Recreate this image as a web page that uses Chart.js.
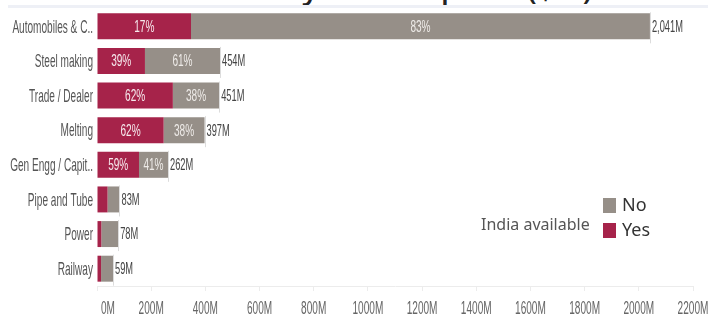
<!DOCTYPE html>
<html>
  <head>
    <meta charset="utf-8" />
    <title>End use industry-wise imports</title>
    <script src="https://cdn.jsdelivr.net/npm/chart.js"></script>
    <style>
      * {
        box-sizing: border-box;
        margin: 0;
        padding: 0;
      }
      body {
        width: 708px;
        height: 315px;
        overflow: hidden;
        background: #fff;
        position: relative;
        font-family: "Noto Sans", sans-serif;
      }
      #title {
        position: absolute;
        left: 0;
        width: 664px;
        top: -30px;
        text-align: center;
        font-size: 31px;
        line-height: 34px;
        color: #222;
        font-weight: 500;
        white-space: nowrap;
      }
      #band {
        position: absolute;
        left: 8px;
        right: 0;
        top: 5px;
        height: 3px;
        background: #eef0f6;
      }
      #box {
        position: absolute;
        left: 0;
        top: 0;
        width: 708px;
        height: 315px;
      }
      #legend {
        position: absolute;
        left: 481px;
        top: 194px;
        color: #444;
      }
      #legend .caption {
        position: absolute;
        left: 0;
        top: 19px;
        font-size: 16px;
        white-space: nowrap;
        color: #555;
      }
      #legend .item {
        position: absolute;
        left: 122px;
        font-size: 18px;
        line-height: 20px;
        white-space: nowrap;
        color: #333;
      }
      #legend .sw {
        display: inline-block;
        width: 13px;
        height: 15px;
        margin-right: 6px;
        vertical-align: -2px;
      }
    </style>
  </head>
  <body>
    <div id="title">End use industry-wise imports ($M)</div>
    <div id="band"></div>
    <div id="box"><canvas id="chart"></canvas></div>
    <div id="legend">
      <div class="caption">India available</div>
      <div class="item" style="top: 0px"><span class="sw" style="background: #968f88"></span>No</div>
      <div class="item" style="top: 25px"><span class="sw" style="background: #a6234a"></span>Yes</div>
    </div>

    <script>
      // $M
      const industries = [
        "Automobiles & C..",
        "Steel making",
        "Trade / Dealer",
        "Melting",
        "Gen Engg / Capit..",
        "Pipe and Tube",
        "Power",
        "Railway",
      ];
      const yesValues = [347, 177, 280, 246, 155, 39, 16, 15];
      const noValues = [1694, 277, 171, 151, 107, 44, 62, 44];
      const xTicks = [0, 200, 400, 600, 800, 1000, 1200, 1400, 1600, 1800, 2000, 2200];

      const yesColor = "#a6234a";
      const noColor = "#968f88";

      // the original uses a condensed face, squeeze a normal one
      function narrowText(ctx, text, x, y, size, sx, align, color) {
        ctx.save();
        ctx.font = size + "px 'Liberation Sans', Arial, sans-serif";
        ctx.fillStyle = color;
        ctx.textBaseline = "middle";
        ctx.textAlign = align;
        ctx.translate(x, y);
        ctx.scale(sx, 1);
        ctx.fillText(text, 0, 0);
        ctx.restore();
      }

      const barLabels = {
        id: "barLabels",
        afterDraw(chart) {
          const ctx = chart.ctx;
          const xs = chart.scales.x;
          const ys = chart.scales.y;

          // axis labels
          industries.forEach((name, i) => {
            narrowText(ctx, name, 93, ys.getPixelForValue(i) + 1, 19, 0.53, "right", "#555");
          });
          xTicks.forEach((v) => {
            const off = v === 0 ? 11 : 0;
            narrowText(ctx, v + "M", xs.getPixelForValue(v) + off, 309, 18, 0.56, "center", "#666");
          });

          // percentages inside segments + totals at bar ends
          industries.forEach((name, i) => {
            const total = yesValues[i] + noValues[i];
            const yesBar = chart.getDatasetMeta(1).data[i];
            const noBar = chart.getDatasetMeta(0).data[i];
            const y = yesBar.y;
            [[yesBar, yesValues[i], "#f6e9ed"], [noBar, noValues[i], "#eeebe8"]].forEach(
              ([bar, v, c]) => {
                const w = Math.abs(bar.x - bar.base);
                if (w > 25) {
                  narrowText(
                    ctx,
                    Math.round((v / total) * 100) + "%",
                    (bar.x + bar.base) / 2,
                    y + 1,
                    16,
                    0.63,
                    "center",
                    c
                  );
                }
              }
            );
            const xe = xs.getPixelForValue(total);
            ctx.save();
            ctx.strokeStyle = "#dcdcdc";
            ctx.lineWidth = 1;
            ctx.beginPath();
            ctx.moveTo(Math.round(xe) + 0.5, y - 14);
            ctx.lineTo(Math.round(xe) + 0.5, y + 17);
            ctx.stroke();
            ctx.restore();
            narrowText(ctx, total.toLocaleString("en-US") + "M", xe + 2, y + 1, 16, 0.58, "left", "#444");
          });
        },
      };

      new Chart(document.getElementById("chart").getContext("2d"), {
        type: "bar",
        data: {
          labels: industries,
          datasets: [
            {
              label: "No",
              data: noValues,
              backgroundColor: noColor,
              stack: "s",
              order: 2,
            },
            {
              label: "Yes",
              data: yesValues,
              backgroundColor: yesColor,
              stack: "s",
              order: 1,
            },
          ],
        },
        options: {
          indexAxis: "y",
          responsive: true,
          maintainAspectRatio: false,
          animation: false,
          layout: { padding: { top: 9, right: 15, left: 0, bottom: 0 } },
          datasets: {
            bar: { barPercentage: 0.75, categoryPercentage: 1.0 },
          },
          scales: {
            x: {
              stacked: true,
              min: 0,
              max: 2200,
              afterBuildTicks: (scale) => {
                scale.ticks = xTicks.map((v) => ({ value: v }));
              },
              afterFit: (scale) => {
                scale.height = 29;
              },
              grid: {
                drawOnChartArea: false,
                color: "#ececec",
                tickLength: 5,
              },
              border: { color: "#ececec" },
              ticks: { display: false },
            },
            y: {
              stacked: true,
              afterFit: (scale) => {
                scale.width = 97;
              },
              grid: { display: false },
              border: { display: false },
              ticks: { display: false },
            },
          },
          plugins: {
            legend: { display: false },
            tooltip: { enabled: false },
          },
        },
        plugins: [barLabels],
      });
    </script>
  </body>
</html>
